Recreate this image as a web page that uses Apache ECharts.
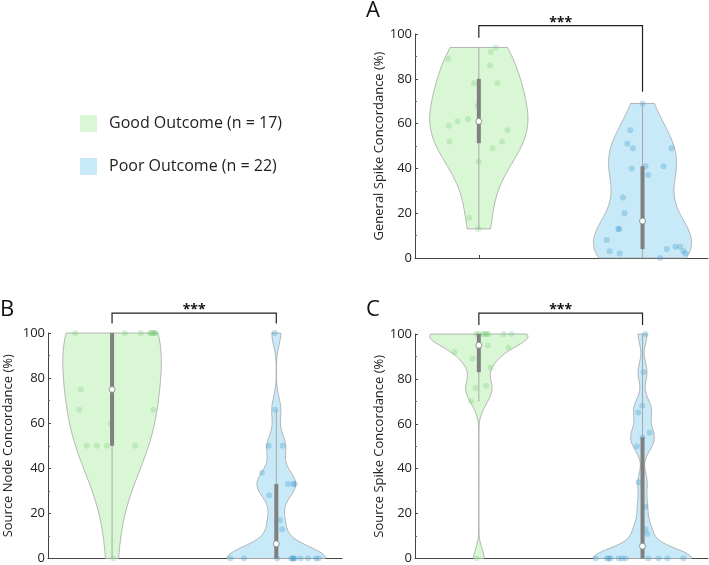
<!DOCTYPE html>
<html><head><meta charset="utf-8">
<script src="https://cdn.jsdelivr.net/npm/echarts@6/dist/echarts.min.js"></script>
<style>html,body{margin:0;padding:0;background:#fff}#c{width:709px;height:565px}</style>
</head><body><div id="c"></div>
<script>
// ---------- data ----------
const groups = ['Good Outcome (n = 17)', 'Poor Outcome (n = 22)'];
const groupPositions = [1, 2];
const panelLetters = ['A', 'B', 'C'];
const yTitles = ['General Spike Concordance (%)', 'Source Node Concordance (%)', 'Source Spike Concordance (%)'];
const significance = ['***', '***', '***'];

// Panel A: General Spike Concordance
const aGood = [94, 92, 89, 86, 78, 78, 68, 62, 61, 59, 57, 52, 52, 49, 43, 18, 13];
const aGoodJitter = [0.102, 0.073, -0.187, 0.069, -0.029, 0.114, -0.008, -0.065, -0.130, -0.183, 0.175, -0.179, 0.142, 0.084, 0, -0.059, -0.004];
const aPoor = [69, 57, 51, 49, 49, 40, 41, 41, 37, 27, 20, 13, 13, 8, 3, 2, 0, 4, 5, 5, 3, 2];
const aPoorJitter = [0, -0.075, -0.093, -0.059, 0.177, -0.067, 0.018, 0.128, 0.035, -0.120, -0.110, -0.148, -0.142, -0.218, -0.201, -0.140, 0.108, 0.148, 0.201, 0.230, 0.250, 0.262];

// Panel B: Source Node Concordance
const bGood = [100, 100, 100, 100, 100, 100, 100, 100, 75, 66, 66, 60, 50, 50, 50, 50, 0];
const bGoodJitter = [-0.224, 0.077, 0.175, 0.232, 0.252, 0.265, 0.240, 0.258, -0.191, -0.199, 0.252, -0.008, -0.154, -0.093, -0.032, 0.142, 0.008];
const bPoor = [100, 66, 50, 50, 38, 33, 33, 33, 28, 17, 13, 0, 0, 0, 0, 0, 0, 0, 0, 0, 0, 0];
const bPoorJitter = [-0.010, -0.006, -0.047, 0.038, -0.087, 0.071, 0.104, 0.112, -0.043, 0.022, 0.035, -0.279, -0.197, 0.005, 0.091, 0.101, 0.104, 0.112, 0.148, 0.193, 0.242, 0.258];

// Panel C: Source Spike Concordance
const cGood = [100, 100, 100, 100, 100, 100, 100, 100, 95, 94, 92, 89, 85, 77, 76, 70, 0];
const cGoodJitter = [-0.014, 0.024, 0.037, 0.047, 0.057, 0.151, 0.199, 0.0, 0.055, 0.181, -0.148, -0.038, 0.071, 0.043, -0.020, -0.047, -0.014];
const cPoor = [100, 83, 68, 65, 56, 54, 50, 34, 23, 13, 11, 0, 0, 0, 0, 0, 0, 0, 0, 0, 0, 0];
const cPoorJitter = [0.018, 0.006, -0.002, -0.026, 0.043, 0.0, -0.035, -0.024, 0.017, 0.017, 0.029, -0.287, -0.218, -0.206, -0.197, -0.145, -0.124, -0.104, 0.035, 0.098, 0.152, 0.25];

// ---------- statistics (violinplot-style) ----------
function sorted(a) { return [...a].sort((x, y) => x - y); }
function median(a) { const s = sorted(a), n = s.length; return n % 2 ? s[(n - 1) / 2] : (s[n / 2 - 1] + s[n / 2]) / 2; }
function quantile(a, p) {
  const s = sorted(a), n = s.length, pos = n * p + 0.5;
  if (pos <= 1) return s[0];
  if (pos >= n) return s[n - 1];
  const i = Math.floor(pos);
  return s[i - 1] + (pos - i) * (s[i] - s[i - 1]);
}
function bandwidth(a) {
  const m = median(a);
  let sig = median(a.map(v => Math.abs(v - m))) / 0.6745;
  if (!(sig > 0)) sig = Math.max(...a) - Math.min(...a);
  return sig * Math.pow(4 / (3 * a.length), 0.2);
}
function violinOutline(a, halfWidth) {
  const bw = bandwidth(a), lo = Math.min(...a), hi = Math.max(...a), N = 160;
  const ys = [], ds = [];
  for (let k = 0; k <= N; k++) {
    const y = lo + (hi - lo) * k / N;
    let d = 0;
    for (const v of a) { const z = (y - v) / bw; d += Math.exp(-0.5 * z * z); }
    ys.push(y); ds.push(d);
  }
  const mx = Math.max(...ds);
  const out = [[lo, 0]];
  for (let k = 0; k <= N; k++) out.push([ys[k], halfWidth * ds[k] / mx]);
  out.push([hi, 0]);
  return out;
}
function boxStats(a) {
  const q1 = quantile(a, 0.25), q3 = quantile(a, 0.75), md = quantile(a, 0.5), iqr = q3 - q1;
  let lw = q1 - 1.5 * iqr; const above = a.filter(v => v > lw); lw = Math.max(lw, Math.min(...above));
  let hw = q3 + 1.5 * iqr; const below = a.filter(v => v < hw); hw = Math.min(hw, Math.max(...below));
  return [lw, q1, md, q3, hw];
}

// ---------- layout / style ----------
const FONT = 'Open Sans';
const fills = ['#daf7d5', '#c8e9f8'];
const dotColors = ['rgba(110,200,110,0.34)', 'rgba(60,150,200,0.38)'];
const panels = [
  { good: aGood, goodJ: aGoodJitter, poor: aPoor, poorJ: aPoorJitter, grid: { left: 415, top: 34, width: 293, height: 224 }, nameGap: 28, letter: { left: 366, top: 0 }, bracket: [103.7, 98.3, 74.2] },
  { good: bGood, goodJ: bGoodJitter, poor: bPoor, poorJ: bPoorJitter, grid: { left: 48, top: 333, width: 294, height: 227 }, nameGap: 33, letter: { left: 0, top: 299 }, bracket: [108.8, 104.2, 104.2] },
  { good: cGood, goodJ: cGoodJitter, poor: cPoor, poorJ: cPoorJitter, grid: { left: 415, top: 334, width: 293, height: 226 }, nameGap: 28, letter: { left: 366, top: 299 }, bracket: [109.3, 104, 104] }
];

const grids = [], xAxes = [], yAxes = [], series = [], titles = [];
panels.forEach((p, i) => {
  grids.push(p.grid);
  titles.push({ text: panelLetters[i], left: p.letter.left, top: p.letter.top, padding: 0,
    textStyle: { fontSize: 22, fontWeight: 'normal', color: '#111', fontFamily: FONT } });
  xAxes.push({ gridIndex: i, type: 'value', min: 0.61, max: 2.4,
    axisLine: { show: true, lineStyle: { color: '#444', width: 1 } },
    axisTick: { show: true, inside: true, length: 3, customValues: groupPositions, lineStyle: { color: '#444' } },
    axisLabel: { show: false }, splitLine: { show: false } });
  yAxes.push({ gridIndex: i, type: 'value', min: 0, max: 100, interval: 20,
    name: yTitles[i], nameLocation: 'middle', nameGap: p.nameGap,
    nameTextStyle: { fontSize: 13, color: '#222', fontFamily: FONT },
    axisLine: { show: true, lineStyle: { color: '#444', width: 1 } },
    axisTick: { show: true, inside: true, length: 3, lineStyle: { color: '#444' } },
    minorTick: { show: true, splitNumber: 2, length: 2, lineStyle: { color: '#666' } },
    axisLabel: { fontSize: 13, color: '#222', margin: 3, fontFamily: FONT },
    splitLine: { show: false } });

  const sets = [[p.good, p.goodJ], [p.poor, p.poorJ]];
  sets.forEach(([vals, jit], g) => {
    const pos = groupPositions[g];
    const outline = violinOutline(vals, 0.3);
    series.push({
      type: 'custom', name: groups[g], xAxisIndex: i, yAxisIndex: i,
      itemStyle: { color: fills[g] }, silent: true, z: 1,
      data: [[pos, 0]],
      renderItem: (params, api) => {
        const pts = [];
        for (const [y, w] of outline) pts.push(api.coord([pos + w, y]));
        for (let k = outline.length - 1; k >= 0; k--) pts.push(api.coord([pos - outline[k][1], outline[k][0]]));
        return { type: 'polygon', shape: { points: pts }, style: { fill: fills[g], stroke: '#a3a3a3', lineWidth: 0.8 } };
      }
    });
  });
  sets.forEach(([vals, jit], g) => {
    const pos = groupPositions[g];
    series.push({
      type: 'scatter', name: 'pts' + i + g, xAxisIndex: i, yAxisIndex: i, z: 2, silent: true,
      symbolSize: 6, itemStyle: { color: dotColors[g] },
      data: vals.map((v, k) => [pos + jit[k], v])
    });
  });
  sets.forEach(([vals], g) => {
    const pos = groupPositions[g];
    series.push({
      type: 'custom', name: 'box' + i + g, xAxisIndex: i, yAxisIndex: i, z: 3, silent: true,
      data: [[pos].concat(boxStats(vals))],
      renderItem: (params, api) => {
        const x = api.value(0);
        const lo = api.coord([x, api.value(1)]), q1 = api.coord([x, api.value(2)]), md = api.coord([x, api.value(3)]),
              q3 = api.coord([x, api.value(4)]), hi = api.coord([x, api.value(5)]);
        return { type: 'group', children: [
          { type: 'line', shape: { x1: lo[0], y1: lo[1], x2: hi[0], y2: hi[1] }, style: { stroke: '#a8a8a8', lineWidth: 1 } },
          { type: 'rect', shape: { x: q1[0] - 2, y: q3[1], width: 4, height: q1[1] - q3[1] }, style: { fill: '#808080' } },
          { type: 'circle', shape: { cx: md[0], cy: md[1], r: 3 }, style: { fill: '#fff', stroke: '#808080', lineWidth: 0.8 } }
        ] };
      }
    });
  });
  series.push({
    type: 'custom', name: 'sig' + i, xAxisIndex: i, yAxisIndex: i, z: 4, silent: true, clip: false,
    data: [[groupPositions[0], groupPositions[1]].concat(p.bracket)],
    renderItem: (params, api) => {
      const a = api.coord([api.value(0), api.value(3)]), b = api.coord([api.value(0), api.value(2)]),
            c = api.coord([api.value(1), api.value(2)]), d = api.coord([api.value(1), api.value(4)]);
      return { type: 'group', children: [
        { type: 'polyline', shape: { points: [a, b, c, d] }, style: { stroke: '#222', lineWidth: 1.2, fill: null } },
        { type: 'text', style: { text: significance[i], x: (b[0] + c[0]) / 2, y: b[1] + 4, align: 'center', verticalAlign: 'bottom',
          font: 'bold 14px "' + FONT + '"', fill: '#111' } }
      ] };
    }
  });
});

const chart = echarts.init(document.getElementById('c'), null, { renderer: 'canvas' });
chart.setOption({
  animation: false,
  backgroundColor: '#fff',
  title: titles,
  legend: { data: groups, orient: 'vertical', left: 80, top: 115, padding: 0, icon: 'rect',
    itemWidth: 17, itemHeight: 17, itemGap: 26, selectedMode: false,
    textStyle: { fontSize: 16, color: '#222', fontFamily: FONT, padding: [0, 0, 0, 7] } },
  grid: grids, xAxis: xAxes, yAxis: yAxes, series
});
</script></body></html>
